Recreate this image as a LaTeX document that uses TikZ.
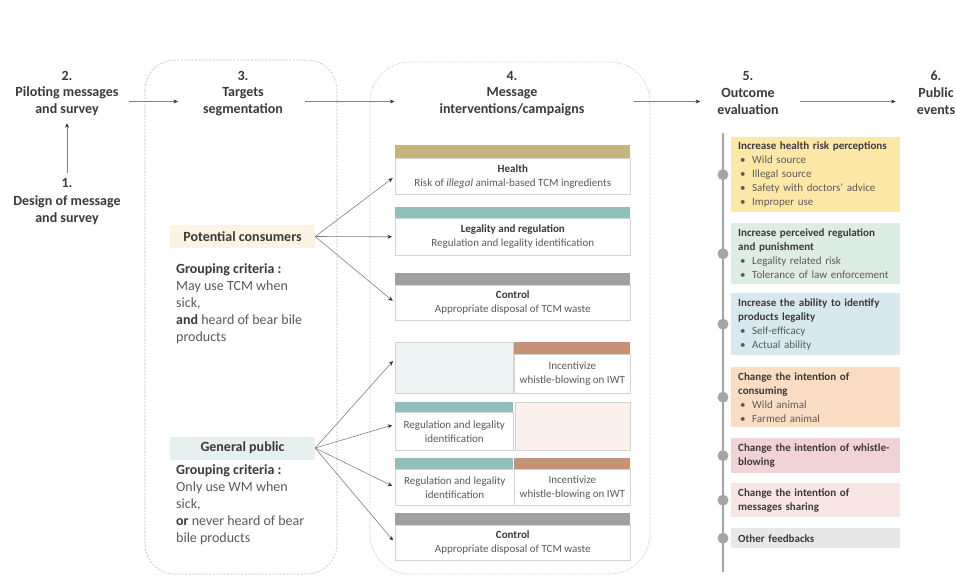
\documentclass[tikz,border=0pt]{standalone}
\usepackage{fontspec}
\setmainfont{Carlito}
\usetikzlibrary{arrows.meta,calc}
\definecolor{titlecol}{HTML}{3A3A3A}
\definecolor{bodycol}{HTML}{5A5A5A}
\definecolor{arrowcol}{HTML}{808080}
\definecolor{tipcol}{HTML}{333333}
\definecolor{olive}{HTML}{C3B57C}
\definecolor{tealbar}{HTML}{91BFBC}
\definecolor{graybar}{HTML}{A0A0A0}
\definecolor{brownbar}{HTML}{C69176}
\definecolor{borderc}{HTML}{D3D3D3}
\definecolor{tealight}{HTML}{EDF4F3}
\definecolor{pinklight}{HTML}{FBF0EC}
\definecolor{pcfill}{HTML}{FCF3E3}
\definecolor{gpfill}{HTML}{E6F0EE}
\definecolor{yfive}{HTML}{FDE8A8}
\definecolor{gfive}{HTML}{DDEDE3}
\definecolor{bfive}{HTML}{D7E9EE}
\definecolor{ofive}{HTML}{FBDDC3}
\definecolor{pfive}{HTML}{F1D3D6}
\definecolor{lpfive}{HTML}{F8E6E5}
\definecolor{grfive}{HTML}{E8E8E8}
\definecolor{dotc}{HTML}{A5A5A5}
\definecolor{framec}{HTML}{BDBDBD}
\newcommand\bul[1]{\hspace*{2pt}\makebox[12pt][l]{\textbullet}#1}
\newcommand\bt[1]{\textbf{\color{titlecol}#1}}
\begin{document}
\begin{tikzpicture}[x=1pt,y=-1pt,
  ttl/.style={font=\fontsize{14}{17}\selectfont\bfseries, text=titlecol, align=center, inner sep=0pt},
  arr/.style={draw=arrowcol, line width=0.6pt, -{Stealth[length=4.5pt,width=4pt,color=tipcol]}},
  barbox/.style={rectangle, draw=none, inner sep=0pt, anchor=north west},
  cell/.style={rectangle, draw=borderc, line width=0.6pt, fill=white, inner sep=0pt, anchor=north west, align=center, font=\fontsize{11}{14}\selectfont, text=bodycol},
  obox/.style={rectangle, inner sep=0pt, anchor=north west, minimum width=169pt, text width=155pt, align=left, font=\fontsize{11}{14}\selectfont, text=bodycol},
  seg/.style={rectangle, inner sep=0pt, minimum width=145pt, minimum height=23pt, font=\fontsize{14}{17}\selectfont\bfseries, text=titlecol},
  crit/.style={anchor=west, align=left, inner sep=0pt, font=\fontsize{14}{17}\selectfont, text=bodycol},
  dotn/.style={circle, fill=dotc, inner sep=0pt, minimum size=11pt},
]
\useasboundingbox (0,0) rectangle (956,576);
\clip (0,0) rectangle (956,576);
\fill[white] (0,0) rectangle (956,576);

% group frames
\draw[framec, line width=0.6pt, dash pattern=on 2pt off 1.5pt, rounded corners=30pt] (145,60) rectangle (337,574);
\draw[framec, line width=0.7pt, dash pattern=on 1pt off 1.5pt, rounded corners=40pt] (370,62) rectangle (650,574);

% titles
\node[ttl] (n2) at (67,76) {2.};
\node[ttl] (p2) at (67,101.5) {Piloting messages\\and survey};
\node[ttl] (n1) at (67,183) {1.};
\node[ttl] (d1) at (67,210.5) {Design of message\\and survey};
\node[ttl] (n3) at (243,76) {3.};
\node[ttl] (t3) at (243,101.5) {Targets\\segmentation};
\node[ttl] (n4) at (512,76) {4.};
\node[ttl] (m4) at (512,101.5) {Message\\interventions/campaigns};
\node[ttl] (n5) at (748,76) {5.};
\node[ttl] (o5) at (748,101.5) {Outcome\\evaluation};
\node[ttl] (n6) at (936,76) {6.};
\node[ttl] (e6) at (936,101.5) {Public\\events};

\draw[arr, shorten <=5pt, shorten >=7pt] (n1.north) -- (p2.south);
\draw[arr, shorten <=10pt, shorten >=25pt] (p2.east) -- (t3.west);
\draw[arr, shorten <=22pt, shorten >=45pt] (t3.east) -- (m4.west);
\draw[arr, shorten <=49pt, shorten >=17pt] (m4.east) -- (o5.west);
\draw[arr, shorten <=21pt, shorten >=21pt] (o5.east) -- (e6.west);

% segmentation
\node[seg, fill=pcfill] (pc) at (242.5,236.5) {Potential consumers};
\node[crit] (pct) at (176,304) {\bt{Grouping criteria :}\\May use TCM when\\sick,\\\bt{and} heard of bear bile\\products};
\node[seg, fill=gpfill] (gp) at (242.5,448) {General public};
\node[crit] (gpt) at (176,505) {\bt{Grouping criteria :}\\Only use WM when\\sick,\\\bt{or} never heard of bear\\bile products};

% messages, upper
\node[barbox, fill=olive, minimum width=235pt, minimum height=13pt] (hbar) at (395,145) {};
\node[cell, minimum width=235pt, minimum height=36pt] (hb) at (395,158) {\bt{Health}\\Risk of \textit{illegal} animal-based TCM ingredients};
\node[barbox, fill=tealbar, minimum width=235pt, minimum height=11pt] (lbar) at (395,207) {};
\node[cell, minimum width=235pt, minimum height=37pt] (lb) at (395,218) {\bt{Legality and regulation}\\Regulation and legality identification};
\node[barbox, fill=graybar, minimum width=235pt, minimum height=12pt] (cbar) at (395,273) {};
\node[cell, minimum width=235pt, minimum height=35pt] (cb) at (395,285) {\bt{Control}\\Appropriate disposal of TCM waste};

% messages, lower
\node[cell, fill=tealight, draw=borderc, minimum width=118pt, minimum height=51pt] (ra) at (395,342) {};
\node[barbox, fill=brownbar, minimum width=116pt, minimum height=12pt] (rabar) at (514,342) {};
\node[cell, minimum width=116pt, minimum height=39pt] (rab) at (514,354) {Incentivize\\whistle-blowing on IWT};

\node[barbox, fill=tealbar, minimum width=118pt, minimum height=10pt] (rbbar) at (395,402) {};
\node[cell, minimum width=118pt, minimum height=38pt] (rb) at (395,412) {Regulation and legality\\identification};
\node[cell, fill=pinklight, minimum width=115pt, minimum height=48pt] (rbr) at (515,402) {};

\node[barbox, fill=tealbar, minimum width=118pt, minimum height=11pt] (rcbar) at (395,458) {};
\node[barbox, fill=brownbar, minimum width=116pt, minimum height=11pt] (rcbar2) at (514,458) {};
\node[cell, minimum width=119pt, minimum height=36pt] (rc) at (395,469) {Regulation and legality\\identification};
\node[cell, minimum width=116pt, minimum height=36pt] (rcr) at (514,469) {Incentivize\\whistle-blowing on IWT};

\node[barbox, fill=graybar, minimum width=235pt, minimum height=12pt] (rdbar) at (395,513) {};
\node[cell, minimum width=235pt, minimum height=35pt] (rd) at (395,525) {\bt{Control}\\Appropriate disposal of TCM waste};

% connectors
\foreach \t in {hb,lb,cb} \draw[arr, shorten >=3pt] (pc.east) -- (\t.west);
\draw[arr, shorten >=3pt] (gp.east) -- ([yshift=9pt]ra.west);
\draw[arr, shorten >=3pt] (gp.east) -- ([yshift=7pt]rb.west);
\draw[arr, shorten >=3pt] (gp.east) -- (rc.west);
\draw[arr, shorten >=3pt] (gp.east) -- (rd.west);

% outcome evaluation
\coordinate (ltop) at (723,133);
\coordinate (lbot) at (723,572);
\draw[dotc, line width=1.2pt] (ltop) -- (lbot);

\node[obox, fill=yfive, minimum height=75pt] (b1) at (731,137) {\bt{Increase health risk perceptions}\\\bul{Wild source}\\\bul{Illegal source}\\\bul{Safety with doctors' advice}\\\bul{Improper use}};
\node[obox, fill=gfive, minimum height=61pt] (b2) at (731,223) {\bt{Increase perceived regulation}\\\bt{and punishment}\\\bul{Legality related risk}\\\bul{Tolerance of law enforcement}};
\node[obox, fill=bfive, minimum height=62pt] (b3) at (731,293) {\bt{Increase the ability to identify}\\\bt{products legality}\\\bul{Self-efficacy}\\\bul{Actual ability}};
\node[obox, fill=ofive, minimum height=60pt] (b4) at (731,367) {\bt{Change the intention of}\\\bt{consuming}\\\bul{Wild animal}\\\bul{Farmed animal}};
\node[obox, fill=pfive, minimum height=35pt] (b5) at (731,438) {\bt{Change the intention of whistle-}\\\bt{blowing}};
\node[obox, fill=lpfive, minimum height=34pt] (b6) at (731,483) {\bt{Change the intention of}\\\bt{messages sharing}};
\node[obox, fill=grfive, minimum height=20pt] (b7) at (731,528) {\bt{Other feedbacks}};

\foreach \b in {b1,b2,b3,b4,b5,b6,b7} \node[dotn] (c\b) at (\b.west -| ltop) {};
\end{tikzpicture}
\end{document}
